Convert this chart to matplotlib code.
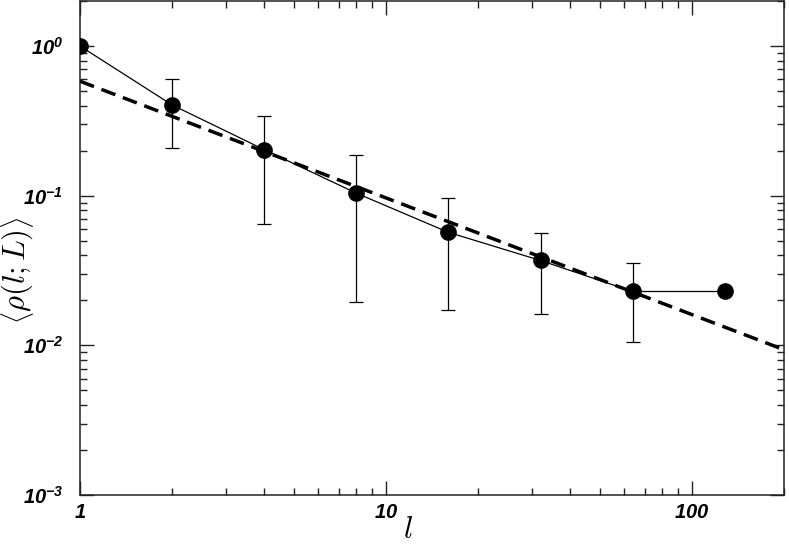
import numpy as np
import matplotlib
matplotlib.use('Agg')
import matplotlib.pyplot as plt
from matplotlib.ticker import LogLocator, NullFormatter

# mean density vs l
l_vals = [1, 2, 4, 8, 16, 32, 64, 128]
rho_vals = [1.0, 0.404, 0.203, 0.104, 0.0569, 0.0369, 0.0229, 0.0229]

# error bars only on l = 2 ... 64
err_l = [2, 4, 8, 16, 32, 64]
err_mid = [0.404, 0.203, 0.104, 0.0569, 0.0369, 0.0229]
err_top = [0.605, 0.341, 0.188, 0.096, 0.0567, 0.0356]
err_bot = [0.207, 0.0644, 0.0196, 0.0172, 0.0161, 0.0106]

# power-law fit, end points
fit_l = [1, 200]
fit_rho = [0.582, 0.00935]

xtick_vals = [1, 10, 100]
xtick_labels = [r'$\mathbf{1}$', r'$\mathbf{10}$', r'$\mathbf{100}$']
ytick_vals = [1e-3, 1e-2, 1e-1, 1]
ytick_labels = [r'$\mathbf{10^{-3}}$', r'$\mathbf{10^{-2}}$',
                r'$\mathbf{10^{-1}}$', r'$\mathbf{10^{0}}$']

plt.rcParams['mathtext.fontset'] = 'custom'
plt.rcParams['mathtext.bf'] = 'Liberation Sans:bold:italic'
plt.rcParams['mathtext.rm'] = 'Liberation Sans:bold:italic'

fig = plt.figure(figsize=(7.89, 5.46), dpi=100)
ax = fig.add_axes([0.1014, 0.0934, 0.8923, 0.9048])

lower = np.array(err_mid) - np.array(err_bot)
upper = np.array(err_top) - np.array(err_mid)
ax.errorbar(err_l, err_mid, yerr=[lower, upper], fmt='none', ecolor='black',
            elinewidth=0.9, capsize=5, capthick=0.9, zorder=2)
ax.plot(l_vals, rho_vals, '-', color='black', lw=0.9, marker='o',
        markersize=11, zorder=3)
ax.plot(fit_l, fit_rho, color='black', lw=2.5, dashes=(4.3, 2.3), zorder=4)

ax.set_xscale('log')
ax.set_yscale('log')
ax.set_xlim(1, 200)
ax.set_ylim(1e-3, 2)

ax.set_xticks(xtick_vals)
ax.set_xticklabels(xtick_labels)
ax.set_yticks(ytick_vals)
ax.set_yticklabels(ytick_labels)
for a in (ax.xaxis, ax.yaxis):
    a.set_minor_locator(LogLocator(base=10, subs=np.arange(2, 10), numticks=20))
    a.set_minor_formatter(NullFormatter())

ax.tick_params(which='both', direction='in', top=True, right=True,
               width=1.0, color='#222222')
ax.tick_params(which='major', length=10, labelsize=14.5)
ax.tick_params(which='minor', length=5)
ax.tick_params(axis='x', which='major', pad=6)
ax.tick_params(axis='y', which='major', pad=12)

for s in ax.spines.values():
    s.set_linewidth(1.1)
    s.set_color('#222222')

ax.set_xlabel(r'$l$', fontsize=22, math_fontfamily='cm')
ax.set_ylabel(r'$\left\langle\rho(l;L)\right\rangle$', fontsize=22,
              math_fontfamily='cm')
ax.xaxis.set_label_coords(0.466, -0.04)
ax.yaxis.set_label_coords(-0.062, 0.455)

fig.savefig('out.png', dpi=100)
